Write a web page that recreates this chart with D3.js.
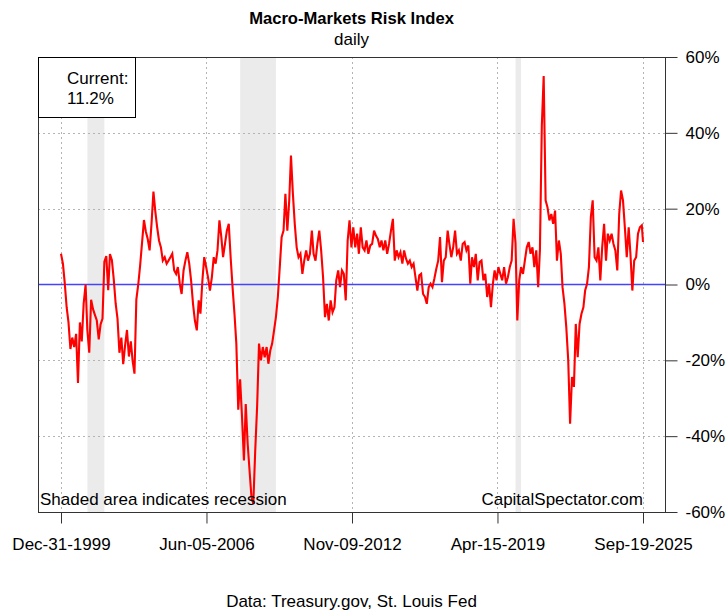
<!DOCTYPE html>
<html>
<head>
<meta charset="utf-8">
<script src="https://cdn.jsdelivr.net/npm/d3@7"></script>
<style>
  body { margin: 0; background: #fff; }
  text { font-family: "Liberation Sans", Arial, sans-serif; fill: #000; }
</style>
</head>
<body>
<div id="container"></div>
<script>
// month-end readings, Dec 1999 .. Sep 2025 (percent)
const riskIndex = [
  8.1, 5.5, 0.5, -6, -10, -17, -14, -16.5, -13, -26, -10, -15, -5, 0, -12, -18, -4, -6.5, -8, -9.5,
  -14.5, -10.5, -9, 6, 7.5, -1.5, 8, 6.5, 1.5, -5, -9, -18, -14, -21, -16, -12, -19, -15, -20, -23.5,
  -4, 0, 5, 11, 17, 14, 12, 9, 16, 24.5, 19.5, 15.1, 11.6, 9.8, 6.3, 7.2, 5.5, 6.3, 7.2, 8.1,
  3.7, 2.8, 4.6, 0.2, -2.5, 3.7, 6.3, 8.5, 5.5, 1, -5.1, -9.5, -12.1, -4.2, -7.7, 1, 7.2, 4.6, 1.9, -1.6,
  1.9, 7.2, 5.5, 9, 16.9, 12.5, 7.2, 10.7, 14.2, 16, 7.2, -0.7, -7.7, -15.6, -33, -25, -35, -46.4, -31.5, -42,
  -49, -56, -57.8, -43.8, -32, -15.6, -20, -16.5, -19.2, -16.5, -20.9, -17.4, -15.6, -12.1, -8.6, -3.3, 4.6, 12.5, 14.2, 23.9,
  14.2, 22.2, 34, 23.9, 16, 9.8, 7.2, 8.1, 2.8, 6.3, 9, 6.3, 8.1, 14.2, 8.1, 6.3, 10.7, 14.2, 9, 1.9,
  -8.6, -5.1, -9.5, -4.2, -7.3, -6, 1.1, 3.7, -0.7, 3.7, 2.8, -4.2, 11.6, 16.9, 9.8, 15.1, 9.8, 13.4, 8.1, 15.1,
  9.8, 9, 11.6, 8.1, 10.3, 10.7, 14.2, 12.9, 12, 9.8, 11.6, 9, 11.6, 8.1, 10.7, 14.2, 17.3, 6.3, 9, 7.2,
  8.5, 5.5, 9, 6.8, 5.5, 6.3, 4.6, 5.5, 1.9, -1.6, 2.4, 2.8, -2.5, -3.3, -5.1, -0.7, 0.2, -0.7, 1.5, 4.1,
  6.3, 12.5, 0.6, 6.3, 7.2, 14.2, 10.7, 7.2, 9.8, 14.2, 8.1, 9, 6.3, 10.7, 11.2, 9, 10.3, 0.2, 7.2, 4.6,
  8.1, 1.1, 5.9, 6.3, 1.1, 2.8, -3.3, 0.2, -6, 0.2, 3.7, 1.1, 4.6, 2.8, 1.1, 4.6, 0.2, 1.9, 4.6, 6.3,
  17.3, 11, -9.5, 1.1, 4.6, 2.8, 6.3, 9.8, 11.2, 8.1, 9.8, 4.6, 9, -0.7, 9, 42, 55, 22.2, 20.4, 16.9,
  18.6, 16, 19.5, 6.3, 11.6, 8.1, -0.7, -5.1, -11.3, -20, -36.7, -24.4, -27, -10.4, -19.2, -10.4, -7.7, -6, -1.6, 0.2,
  4.6, 17.8, 22.2, 7.2, 6.3, 9.8, 1.1, 9.8, 16, 6.3, 13.4, 11.6, 13.4, 10.7, 9, 3.7, 18.6, 24.8, 22.2, 15.1,
  7.2, 15.1, 8.1, -1.6, 6.3, 7.2, 13.4, 15.1, 15.6, 11.2
];
const currentValue = '11.2%';

const recessions = [
  ['2001-03-01', '2001-11-30'],
  ['2007-12-01', '2009-06-30'],
  ['2020-02-01', '2020-04-30']
];

const xTickDates = ['1999-12-31', '2006-06-05', '2012-11-09', '2019-04-15', '2025-09-19'];
const xTickLabels = ['Dec-31-1999', 'Jun-05-2006', 'Nov-09-2012', 'Apr-15-2019', 'Sep-19-2025'];
const yTicks = [-60, -40, -20, 0, 20, 40, 60];

const width = 725;
const height = 611;
const box = { left: 38, right: 665, top: 57, bottom: 512 };
const fontSize = '17px';

const parse = d3.timeParse('%Y-%m-%d');

// each reading sits at the last day of its month
const data = riskIndex.map((v, i) => ({
  date: d3.timeDay.offset(d3.timeMonth.offset(new Date(2000, 0, 1), i), -1),
  value: v
}));
data[data.length - 1].date = parse('2025-09-19');

const x = d3.scaleTime()
  .domain([parse(xTickDates[0]), parse(xTickDates[xTickDates.length - 1])])
  .range([61, 643]);
const y = d3.scaleLinear().domain([-60, 60]).range([box.bottom, box.top]);

const svg = d3.select('#container').append('svg')
  .attr('width', width)
  .attr('height', height);

// recession shading
svg.append('g').selectAll('rect').data(recessions).enter().append('rect')
  .attr('x', (d) => x(parse(d[0])))
  .attr('width', (d) => x(parse(d[1])) - x(parse(d[0])))
  .attr('y', box.top)
  .attr('height', box.bottom - box.top)
  .style('fill', '#ebebeb');

// grid
const grid = svg.append('g')
  .style('stroke', '#b4b4b4')
  .style('stroke-dasharray', '2,3')
  .style('stroke-width', 1);

grid.selectAll('.h').data(yTicks.filter((d) => d !== 0 && Math.abs(d) < 60)).enter().append('line')
  .attr('x1', box.left).attr('x2', box.right)
  .attr('y1', (d) => Math.round(y(d)) + 0.5)
  .attr('y2', (d) => Math.round(y(d)) + 0.5);

grid.selectAll('.v').data(xTickDates).enter().append('line')
  .attr('x1', (d) => Math.round(x(parse(d))) + 0.5)
  .attr('x2', (d) => Math.round(x(parse(d))) + 0.5)
  .attr('y1', box.top).attr('y2', box.bottom);

// zero line
svg.append('line')
  .attr('x1', box.left).attr('x2', box.right)
  .attr('y1', y(0)).attr('y2', y(0))
  .style('stroke', '#4444ff')
  .style('stroke-width', 1.5);

// series
const line = d3.line().x((d) => x(d.date)).y((d) => y(d.value));
svg.append('path')
  .datum(data)
  .attr('d', line)
  .style('fill', 'none')
  .style('stroke', '#ff0000')
  .style('stroke-width', 2.1)
  .style('stroke-linejoin', 'miter');

// frame
svg.append('rect')
  .attr('x', box.left + 0.5).attr('y', box.top + 0.5)
  .attr('width', box.right - box.left).attr('height', box.bottom - box.top)
  .style('fill', 'none')
  .style('stroke', '#333');

// right axis
const yAxis = d3.axisRight(y)
  .tickValues(yTicks)
  .tickSize(12)
  .tickPadding(8)
  .tickFormat((d) => d + '%');
const ya = svg.append('g')
  .attr('transform', `translate(${box.right + 0.5} 0)`)
  .call(yAxis);
ya.select('.domain').remove();
ya.selectAll('line').style('stroke', '#333');
ya.selectAll('text').style('font-size', fontSize).style('font-family', '"Liberation Sans", Arial, sans-serif');

// bottom axis
const xAxis = d3.axisBottom(x)
  .tickValues(xTickDates.map(parse))
  .tickSize(11)
  .tickPadding(14)
  .tickFormat((d, i) => xTickLabels[i]);
const xa = svg.append('g')
  .attr('transform', `translate(0 ${box.bottom + 0.5})`)
  .call(xAxis);
xa.select('.domain').remove();
xa.selectAll('line').style('stroke', '#333');
xa.selectAll('text').style('font-size', fontSize).style('font-family', '"Liberation Sans", Arial, sans-serif');

// legend
svg.append('rect')
  .attr('x', box.left + 0.5).attr('y', box.top + 0.5)
  .attr('width', 97).attr('height', 60)
  .style('fill', '#fff')
  .style('stroke', '#000');
svg.append('text').attr('x', 67).attr('y', 84).style('font-size', fontSize).text('Current:');
svg.append('text').attr('x', 67).attr('y', 104).style('font-size', fontSize).text(currentValue);

// titles and notes
const cx = (box.left + box.right) / 2;
svg.append('text').attr('x', cx).attr('y', 24).attr('text-anchor', 'middle')
  .style('font-size', '16.6px').style('font-weight', 'bold').text('Macro-Markets Risk Index');
svg.append('text').attr('x', cx).attr('y', 45).attr('text-anchor', 'middle')
  .style('font-size', fontSize).text('daily');
svg.append('text').attr('x', 40).attr('y', 505)
  .style('font-size', fontSize).text('Shaded area indicates recession');
svg.append('text').attr('x', 643).attr('y', 505).attr('text-anchor', 'end')
  .style('font-size', fontSize).text('CapitalSpectator.com');
svg.append('text').attr('x', cx).attr('y', 607).attr('text-anchor', 'middle')
  .style('font-size', fontSize).text('Data: Treasury.gov, St. Louis Fed');
</script>
</body>
</html>
